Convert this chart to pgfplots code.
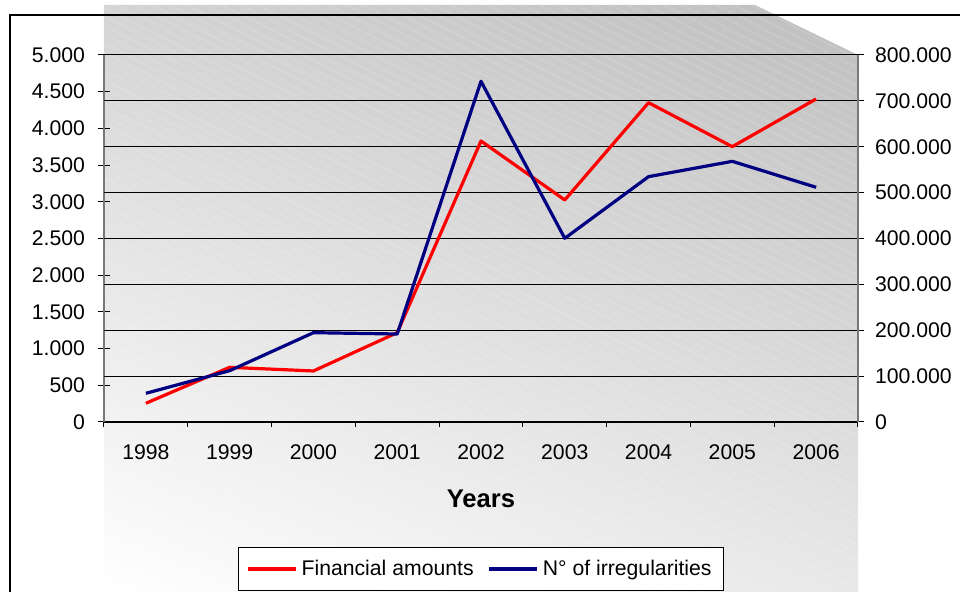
\documentclass[border=0pt]{standalone}
\usepackage{fontspec}
\setmainfont{Liberation Sans}
\usepackage{pgfplots}
\pgfplotsset{compat=1.18}
\usetikzlibrary{patterns.meta,shadings}

\definecolor{navy}{RGB}{0,0,128}
\definecolor{axgray}{RGB}{120,120,120}
\definecolor{bgUL}{RGB}{212,212,212}
\definecolor{bgUR}{RGB}{190,190,190}
\definecolor{bgLL}{RGB}{255,255,255}
\definecolor{bgLR}{RGB}{232,232,232}

\pgfplotsset{
  common/.style={
    at={(0,0)}, anchor=south west,
    scale only axis, width=377pt, height=183.5pt,
    xmin=0.5, xmax=9.5,
    scaled y ticks=false,
    tick label style={font=\fontsize{10.6}{12}\selectfont},
    yticklabel style={/pgf/number format/fixed, /pgf/number format/1000 sep={.},
      /pgf/number format/assume math mode=true},
    ytick align=center, major tick length=6pt,
    tick style={black, line width=0.5pt},
  },
}

\begin{document}
\begin{tikzpicture}
\useasboundingbox (-52pt,-85pt) rectangle (428pt,211pt);
% backdrop
\shade[upper left=bgUL, upper right=bgUR, lower left=bgLL, lower right=bgLR]
  (0,208.5pt) -- (325.5pt,208.5pt) -- (377pt,183.5pt) -- (377pt,-85pt) -- (0,-85pt) -- cycle;
\fill[pattern={Lines[angle=-27,distance=4pt,line width=0.4pt]}, pattern color=white, opacity=0.35]
  (0,208.5pt) -- (325.5pt,208.5pt) -- (377pt,183.5pt) -- (377pt,-85pt) -- (0,-85pt) -- cycle;
\draw[line width=1pt] (-47pt,-86pt) -- (-47pt,203.5pt) -- (429pt,203.5pt);

\begin{axis}[common,
  ymin=0, ymax=5000,
  axis x line*=bottom, axis y line*=left,
  x axis line style={black, line width=0.6pt},
  y axis line style={axgray, line width=0.8pt},
  xtick={1,...,9},
  xticklabels={1998,1999,2000,2001,2002,2003,2004,2005,2006},
  major x tick style={draw=none},
  minor xtick={0.5,1.5,...,9.5},
  minor x tick style={black, line width=0.5pt},
  xtick align=outside, minor tick length=2.5pt,
  xticklabel style={yshift=-2pt},
  ytick={0,500,...,5000},
  yticklabel style={xshift=-3pt},
  extra y ticks={625,1250,1875,2500,3125,3750,4375,5000},
  extra y tick labels={},
  extra y tick style={grid=major, tick style={draw=none}},
  major grid style={black, line width=0.5pt},
  xlabel={Years},
  xlabel style={at={(axis description cs:0.5,0)}, anchor=center, yshift=-38.5pt,
    font=\fontsize{12.8}{14}\selectfont\bfseries},
  legend columns=2,
  legend style={at={(axis description cs:0.5,0)}, anchor=center, yshift=-73.5pt,
    draw=black, line width=0.5pt, fill=white, inner xsep=4pt, inner ysep=4pt,
    font=\fontsize{10.6}{12}\selectfont,
    /tikz/every even column/.append style={column sep=5pt}},
  legend image code/.code={\draw[#1] (0pt,0pt) -- (24pt,0pt);},
]
\addplot[red, line width=1.6pt, line join=round] coordinates {
  (1,255)(2,745)(3,695)(4,1217)(5,3828)(6,3025)(7,4350)(8,3751)(9,4401)
};
\addlegendentry{Financial amounts}
\addlegendimage{navy, line width=1.6pt}
\addlegendentry{N° of irregularities}
\end{axis}

\begin{axis}[common,
  ymin=0, ymax=800000,
  axis x line=none, axis y line*=right,
  y axis line style={axgray, line width=0.8pt},
  ytick={0,100000,...,800000},
  yticklabel style={xshift=2pt},
]
\addplot[navy, line width=1.6pt, line join=round] coordinates {
  (1,62500)(2,111800)(3,194700)(4,191800)(5,742700)(6,400400)(7,534800)(8,568200)(9,511600)
};
\end{axis}
\end{tikzpicture}
\end{document}
